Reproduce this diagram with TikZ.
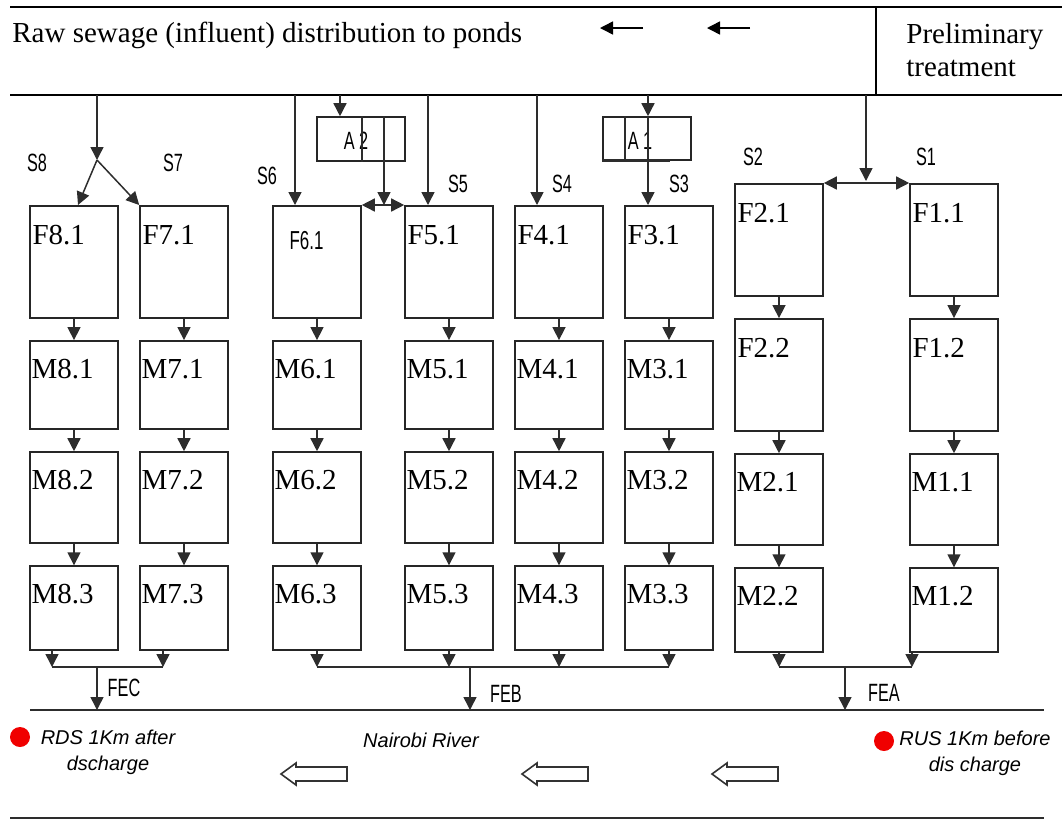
\documentclass[tikz,border=0pt]{standalone}
\usepackage{fontspec}
\setmainfont{Liberation Serif}
\newfontfamily\narrowsans[FakeStretch=0.65]{Liberation Sans}
\newfontfamily\riversans{Liberation Sans}
\usetikzlibrary{arrows.meta, positioning}
\definecolor{pipecolor}{RGB}{45,45,45}
\definecolor{sitecolor}{RGB}{240,0,0}
\tikzset{
    pond/.style={rectangle, draw=black!85, line width=0.8pt, minimum width=44pt, inner sep=0pt},
    fpond/.style={pond, minimum height=56pt},
    mpondA/.style={pond, minimum height=44pt},
    mpondB/.style={pond, minimum height=45.5pt},
    mpondC/.style={pond, minimum height=42pt},
    pondtext/.style={anchor=base west, inner sep=0pt, font=\fontsize{14.5}{17}\selectfont},
    tag/.style={inner sep=0pt, font=\narrowsans\fontsize{12.5}{14}\selectfont},
    rivertext/.style={align=center, inner sep=0pt, font=\riversans\itshape\fontsize{10}{13}\selectfont},
    pipe/.style={draw=pipecolor, line width=0.75pt},
    arrow/.style={pipe, -{Triangle[length=6.5pt, width=6.5pt]}},
    twoway/.style={pipe, {Triangle[length=6.5pt, width=6.5pt]}-{Triangle[length=6.5pt, width=6.5pt]}},
    border/.style={draw=black, line width=1pt},
    flow/.style={draw=black!80, line width=0.8pt},
    site/.style={circle, fill=sitecolor, minimum size=10pt, inner sep=0pt}
}
% one series of ponds: facultative pond and three maturation ponds
\newcommand{\pondcol}[2]{%
    \node[fpond, anchor=north] (f#1) at (#2,205) {};
    \node[mpondA, below=of f#1] (m#1a) {};
    \node[mpondB, below=of m#1a] (m#1b) {};
    \node[mpondC, below=of m#1b] (m#1c) {};
    \node[pondtext] (m#1at) at ([xshift=1pt, yshift=-19pt]m#1a.north west) {M#1.1};
    \node[pondtext] (m#1bt) at ([xshift=1pt, yshift=-19pt]m#1b.north west) {M#1.2};
    \node[pondtext] (m#1ct) at ([xshift=1pt, yshift=-19pt]m#1c.north west) {M#1.3};
    \draw[arrow] (f#1) -- (m#1a);
    \draw[arrow] (m#1a) -- (m#1b);
    \draw[arrow] (m#1b) -- (m#1c);
}
% hollow river flow arrow, tip at x = #1
\newcommand{\riverflow}[1]{%
    \draw[flow] (#1,774) -- ++(15,-11) -- ++(0,4) -- ++(51,0) -- ++(0,14) -- ++(-51,0) -- ++(0,4) -- cycle;
}

\begin{document}
\begin{tikzpicture}[x=0.5pt, y=-0.5pt, node distance=10.75pt]
    \useasboundingbox (0,0) rectangle (1062,821);

    % header band
    \draw[border] (10,7) -- (1062,7);
    \draw[border] (10,95) -- (1062,95);
    \draw[border] (876,7) -- (876,95);
    \node[pondtext] (title) at (12,42) {Raw sewage (influent) distribution to ponds};
    \node[pondtext] (prelimA) at (906,43) {Preliminary};
    \node[pondtext] (prelimB) at (906,76) {treatment};
    \coordinate (dirA1) at (643,28); \coordinate (dirA2) at (600,28);
    \coordinate (dirB1) at (750,28); \coordinate (dirB2) at (707,28);
    \draw[arrow, draw=black] (dirA1) -- (dirA2);
    \draw[arrow, draw=black] (dirB1) -- (dirB2);

    % pond series S3 to S8
    \pondcol{8}{74}
    \pondcol{7}{184}
    \pondcol{6}{317}
    \pondcol{5}{449}
    \pondcol{4}{559}
    \pondcol{3}{669}
    \node[pondtext] (f8t) at ([xshift=1.5pt, yshift=-19.5pt]f8.north west) {F8.1};
    \node[pondtext] (f7t) at ([xshift=1.5pt, yshift=-19.5pt]f7.north west) {F7.1};
    \node[tag, anchor=base west] (f6t) at ([xshift=8.5pt, yshift=-22pt]f6.north west) {\fontsize{13}{15}\selectfont F6.1};
    \node[pondtext] (f5t) at ([xshift=1.5pt, yshift=-19.5pt]f5.north west) {F5.1};
    \node[pondtext] (f4t) at ([xshift=1.5pt, yshift=-19.5pt]f4.north west) {F4.1};
    \node[pondtext] (f3t) at ([xshift=1.5pt, yshift=-19.5pt]f3.north west) {F3.1};

    % pond series S2 and S1
    \node[fpond, anchor=north] (f2a) at (779,183) {};
    \node[fpond, below=of f2a] (f2b) {};
    \node[mpondB, below=of f2b] (m2a) {};
    \node[mpondC, below=of m2a] (m2b) {};
    \node[fpond, anchor=north] (f1a) at (954,183) {};
    \node[fpond, below=of f1a] (f1b) {};
    \node[mpondB, below=of f1b] (m1a) {};
    \node[mpondC, below=of m1a] (m1b) {};
    \node[pondtext] (f2at) at ([xshift=1.5pt, yshift=-19.5pt]f2a.north west) {F2.1};
    \node[pondtext] (f2bt) at ([xshift=1.5pt, yshift=-19.5pt]f2b.north west) {F2.2};
    \node[pondtext] (m2at) at ([xshift=1pt, yshift=-19pt]m2a.north west) {M2.1};
    \node[pondtext] (m2bt) at ([xshift=1pt, yshift=-19pt]m2b.north west) {M2.2};
    \node[pondtext] (f1at) at ([xshift=1.5pt, yshift=-19.5pt]f1a.north west) {F1.1};
    \node[pondtext] (f1bt) at ([xshift=1.5pt, yshift=-19.5pt]f1b.north west) {F1.2};
    \node[pondtext] (m1at) at ([xshift=1pt, yshift=-19pt]m1a.north west) {M1.1};
    \node[pondtext] (m1bt) at ([xshift=1pt, yshift=-19pt]m1b.north west) {M1.2};
    \draw[arrow] (f2a) -- (f2b);
    \draw[arrow] (f2b) -- (m2a);
    \draw[arrow] (m2a) -- (m2b);
    \draw[arrow] (f1a) -- (f1b);
    \draw[arrow] (f1b) -- (m1a);
    \draw[arrow] (m1a) -- (m1b);

    % aerators
    \node[pond, minimum height=22pt] (a2) at (361,139) {};
    \node[pond, minimum height=21.5pt] (a1) at (647,138.5) {};
    \node[tag] (a2t) at (356,141) {A 2};
    \node[tag] (a1t) at (640,141) {A 1};
    \draw[pipe] (a2.north -| 362,0) -- (a2.south -| 362,0);
    \draw[pipe] (a1.north -| 625,0) -- (a1.south -| 625,0);
    \draw[pipe, line width=1.6pt] (a1.south west) -- (a1.south -| 670,0);

    % influent feed lines
    \coordinate (feed87) at (97,95);
    \coordinate (split87) at (97,160);
    \coordinate (feed6) at (295,95);
    \coordinate (feedA2) at (340,95);
    \coordinate (dropA2) at (384,0);
    \coordinate (feed5) at (428,95);
    \coordinate (feed4) at (537,95);
    \coordinate (feedA1) at (648,95);
    \coordinate (feed21) at (866,95);
    \coordinate (split21) at (866,181);
    \draw[arrow] (feed87) -- (split87);
    \draw[arrow] (split87) -- ([xshift=2pt]f8.north);
    \draw[arrow] (split87) -- (f7.north west);
    \draw[arrow] (feed6) -- (f6.north -| feed6);
    \draw[arrow] (feedA2) -- (a2.north -| feedA2);
    \draw[arrow] (a2.north -| dropA2) -- (f6.north -| dropA2);
    \draw[twoway] (f6.north east) -- (f5.north west);
    \draw[arrow] (feed5) -- (f5.north -| feed5);
    \draw[arrow] (feed4) -- (f4.north -| feed4);
    \draw[arrow] (feedA1) -- (a1.north -| feedA1);
    \draw[arrow] (a1.north -| feedA1) -- (f3.north -| feedA1);
    \draw[arrow] (feed21) -- (split21);
    \draw[twoway] (f2a.north east) -- (f1a.north west);

    % series labels
    \node[tag] (s8) at (37,163) {S8};
    \node[tag] (s7) at (173,163) {S7};
    \node[tag] (s6) at (267,176) {S6};
    \node[tag] (s5) at (458,184) {S5};
    \node[tag] (s4) at (562,184) {S4};
    \node[tag] (s3) at (679,184) {S3};
    \node[tag] (s2) at (753,157) {S2};
    \node[tag] (s1) at (926,157) {S1};

    % final effluent collectors
    \coordinate (out8) at (52,667);
    \coordinate (out7) at (163,667);
    \coordinate (fec) at (97,667);
    \coordinate (fecin) at (97,710);
    \draw[arrow] (m8c.south -| out8) -- (out8);
    \draw[arrow] (m7c.south -| out7) -- (out7);
    \draw[pipe] (out8) -- (out7);
    \draw[arrow] (fec) -- (fecin);
    \coordinate (collB) at (0,667);
    \coordinate (feb) at (470,667);
    \coordinate (febin) at (470,710);
    \draw[arrow] (m6c) -- (m6c |- collB);
    \draw[arrow] (m5c) -- (m5c |- collB);
    \draw[arrow] (m4c) -- (m4c |- collB);
    \draw[arrow] (m3c) -- (m3c |- collB);
    \draw[pipe] (m6c |- collB) -- (m3c |- collB);
    \draw[arrow] (feb) -- (febin);
    \coordinate (out1) at (912,667);
    \coordinate (fea) at (845,667);
    \coordinate (feain) at (845,710);
    \draw[arrow] (m2b) -- (m2b |- collB);
    \draw[arrow] (m1b.south -| out1) -- (out1);
    \draw[pipe] (m2b |- collB) -- (out1);
    \draw[arrow] (fea) -- (feain);
    \node[tag] (fect) at (124,688) {FEC};
    \node[tag] (febt) at (506,694) {FEB};
    \node[tag] (feat) at (884,693) {FEA};

    % river
    \coordinate (riverL) at (30,710);
    \coordinate (riverR) at (1044,710);
    \coordinate (bankL) at (10,818);
    \coordinate (bankR) at (1044,818);
    \draw[pipe, line width=0.9pt] (riverL) -- (riverR);
    \draw[pipe, line width=0.9pt] (bankL) -- (bankR);
    \node[site] (rds) at (20,737) {};
    \node[site] (rus) at (884,741) {};
    \node[rivertext] (rdst) at (108,752) {RDS 1Km after\\dscharge};
    \node[rivertext] (rust) at (975,753) {RUS 1Km before\\dis charge};
    \node[rivertext] (river) at (421,740) {Nairobi River};
    \riverflow{281}
    \riverflow{522}
    \riverflow{712}
\end{tikzpicture}
\end{document}
